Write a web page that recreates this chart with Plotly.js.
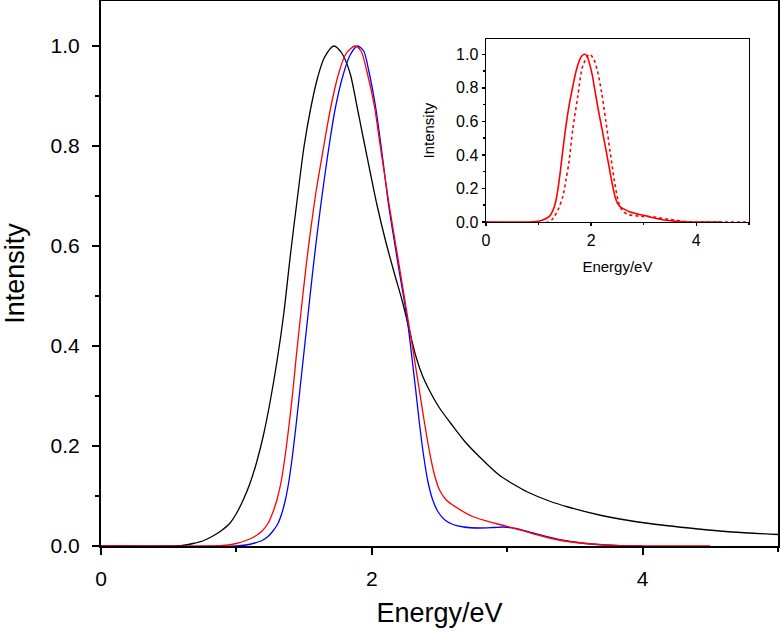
<!DOCTYPE html>
<html>
<head>
<meta charset="utf-8">
<script src="https://cdn.plot.ly/plotly-3.0.1.min.js"></script>
<style>html,body{margin:0;padding:0;background:#fff;}#chart{width:780px;height:631px;}</style>
</head>
<body>
<div id="chart"></div>
<script>
// Main panel: black curve
const blackE = [0, 0.5, 0.60, 0.68, 0.76, 0.82, 0.88, 0.95, 1.00, 1.05, 1.10, 1.15, 1.20, 1.25, 1.30, 1.35, 1.40, 1.45, 1.50, 1.55, 1.60, 1.65, 1.72, 1.78, 1.84, 1.89, 1.94, 1.99, 2.04, 2.10, 2.167, 2.223, 2.27, 2.326, 2.375, 2.424, 2.50, 2.584, 2.69, 2.793, 2.94, 3.05, 3.15, 3.31, 3.45, 3.68, 3.92, 4.17, 4.41, 4.66, 5.0];
const blackI = [0, 0, 0.001, 0.005, 0.011, 0.019, 0.029, 0.045, 0.065, 0.092, 0.125, 0.168, 0.222, 0.290, 0.370, 0.465, 0.585, 0.695, 0.800, 0.877, 0.937, 0.977, 1.0, 0.985, 0.945, 0.880, 0.812, 0.745, 0.680, 0.612, 0.545, 0.492, 0.440, 0.379, 0.340, 0.312, 0.276, 0.245, 0.208, 0.179, 0.142, 0.123, 0.108, 0.090, 0.078, 0.062, 0.050, 0.041, 0.034, 0.028, 0.023];
// Main panel: red curve (also the solid curve of the inset)
const redE = [0, 0.8, 0.9, 1.0, 1.07, 1.135, 1.19, 1.233, 1.27, 1.30, 1.33, 1.36, 1.39, 1.417, 1.442, 1.466, 1.49, 1.515, 1.54, 1.565, 1.59, 1.62, 1.655, 1.695, 1.75, 1.81, 1.875, 1.92, 1.963, 2.019, 2.056, 2.093, 2.13, 2.175, 2.215, 2.25, 2.285, 2.32, 2.355, 2.39, 2.425, 2.46, 2.50, 2.55, 2.62, 2.744, 2.916, 3.063, 3.186, 3.38, 3.58, 3.80, 4.0, 4.5];
const redI = [0, 0, 0.001, 0.005, 0.011, 0.019, 0.030, 0.045, 0.068, 0.093, 0.128, 0.180, 0.245, 0.310, 0.379, 0.440, 0.500, 0.560, 0.615, 0.665, 0.712, 0.760, 0.815, 0.875, 0.940, 0.985, 1.0, 0.990, 0.950, 0.880, 0.812, 0.745, 0.679, 0.605, 0.540, 0.482, 0.424, 0.365, 0.305, 0.245, 0.190, 0.145, 0.112, 0.092, 0.078, 0.059, 0.045, 0.035, 0.025, 0.012, 0.005, 0.001, 0, 0];
// Main panel: blue curve
const blueE = [0, 1.0, 1.07, 1.135, 1.19, 1.233, 1.27, 1.307, 1.335, 1.36, 1.385, 1.41, 1.44, 1.47, 1.50, 1.53, 1.56, 1.59, 1.62, 1.655, 1.69, 1.73, 1.786, 1.84, 1.895, 1.94, 1.978, 2.027, 2.061, 2.093, 2.125, 2.165, 2.205, 2.24, 2.268, 2.295, 2.323, 2.352, 2.383, 2.415, 2.45, 2.49, 2.54, 2.60, 2.68, 2.79, 2.90, 2.97, 3.06, 3.19, 3.38, 3.58, 3.80, 4.0];
const blueI = [0, 0, 0.002, 0.006, 0.011, 0.019, 0.030, 0.045, 0.065, 0.090, 0.125, 0.172, 0.240, 0.315, 0.390, 0.465, 0.540, 0.610, 0.675, 0.745, 0.810, 0.875, 0.940, 0.982, 1.0, 0.990, 0.950, 0.880, 0.815, 0.748, 0.680, 0.612, 0.545, 0.490, 0.440, 0.380, 0.315, 0.245, 0.180, 0.128, 0.092, 0.068, 0.052, 0.043, 0.038, 0.036, 0.037, 0.038, 0.035, 0.026, 0.013, 0.005, 0.001, 0];
// Inset: dotted red curve
const dotE = [0, 1.2, 1.25, 1.30, 1.38, 1.461, 1.52, 1.575, 1.65, 1.746, 1.84, 1.97, 2.05, 2.12, 2.20, 2.28, 2.36, 2.44, 2.52, 2.60, 2.70, 2.90, 3.20, 3.50, 3.80, 4.0, 5.0];
const dotI = [0, 0, 0.012, 0.032, 0.08, 0.152, 0.25, 0.351, 0.551, 0.750, 0.93, 1.0, 0.97, 0.90, 0.77, 0.60, 0.42, 0.25, 0.12, 0.065, 0.045, 0.035, 0.030, 0.015, 0.003, 0, 0];

const xTicks = [0, 2, 4];
const xTickText = ['0', '2', '4'];
const yTicks = [0, 0.2, 0.4, 0.6, 0.8, 1.0];
const yTickText = ['0.0', '0.2', '0.4', '0.6', '0.8', '1.0'];
const xTitle = 'Energy/eV';
const yTitle = 'Intensity';

const FONT = '"Liberation Sans", Arial, sans-serif';

function ln(color, width, dash) {
  const o = {color: color, width: width, shape: 'spline', smoothing: 0.8};
  if (dash) o.dash = dash;
  return o;
}

const traces = [
  {x: blackE, y: blackI, mode: 'lines', line: ln('#000000', 1.3), xaxis: 'x', yaxis: 'y', hoverinfo: 'skip'},
  {x: blueE, y: blueI, mode: 'lines', line: ln('#0000ff', 1.3), xaxis: 'x', yaxis: 'y', hoverinfo: 'skip'},
  {x: redE, y: redI, mode: 'lines', line: ln('#ff0000', 1.3), xaxis: 'x', yaxis: 'y', hoverinfo: 'skip'},
  {x: redE, y: redI, mode: 'lines', line: ln('#ff0000', 1.6), xaxis: 'x2', yaxis: 'y2', hoverinfo: 'skip'},
  {x: dotE, y: dotI, mode: 'lines', line: ln('#ff0000', 1.6, 'dot'), xaxis: 'x2', yaxis: 'y2', hoverinfo: 'skip'}
];

const mainAxis = {
  showgrid: false, zeroline: false, showline: true, linecolor: '#000', linewidth: 2, mirror: true,
  ticks: 'outside', ticklen: 7, tickwidth: 2, tickcolor: '#000', layer: 'below traces',
  tickfont: {family: FONT, size: 21, color: '#000'}
};
const insetAxis = {
  showgrid: false, zeroline: false, showline: true, linecolor: '#000', linewidth: 1.5, mirror: true,
  ticks: 'outside', ticklen: 3, tickwidth: 1.5, tickcolor: '#000', layer: 'below traces',
  tickfont: {family: FONT, size: 16, color: '#000'}
};

const layout = {
  width: 780, height: 631,
  margin: {l: 101, r: 2, t: 1, b: 85},
  paper_bgcolor: '#fff', plot_bgcolor: '#fff',
  showlegend: false,
  font: {family: FONT, color: '#000'},
  xaxis: Object.assign({}, mainAxis, {
    domain: [0, 1], range: [0, 5], tickvals: xTicks, ticktext: xTickText,
    minor: {dtick: 1, tick0: 0, ticklen: 4, tickwidth: 2, tickcolor: '#000', ticks: 'outside', showgrid: false},
    ticklabelstandoff: 6,
    title: {text: xTitle, font: {family: FONT, size: 27, color: '#000'}, standoff: 14}
  }),
  yaxis: Object.assign({}, mainAxis, {
    domain: [0, 1], range: [0, 1.09], tickvals: yTicks, ticktext: yTickText,
    minor: {dtick: 0.1, tick0: 0, ticklen: 4, tickwidth: 2, tickcolor: '#000', ticks: 'outside', showgrid: false},
    ticklabelstandoff: 8,
    title: {text: yTitle, font: {family: FONT, size: 27, color: '#000'}, standoff: 20}
  }),
  xaxis2: Object.assign({}, insetAxis, {
    domain: [0.5687, 0.957], anchor: 'y2', range: [0, 5], tickvals: xTicks, ticktext: xTickText,
    minor: {dtick: 1, tick0: 0, ticklen: 2, tickwidth: 1.5, tickcolor: '#000', ticks: 'outside', showgrid: false},
    title: {text: xTitle, font: {family: FONT, size: 15, color: '#000'}, standoff: 14}
  }),
  yaxis2: Object.assign({}, insetAxis, {
    domain: [0.5945, 0.930], anchor: 'x2', range: [0, 1.09], tickvals: yTicks, ticktext: yTickText,
    minor: {dtick: 0.1, tick0: 0, ticklen: 2, tickwidth: 1.5, tickcolor: '#000', ticks: 'outside', showgrid: false},
    title: {text: yTitle, font: {family: FONT, size: 15, color: '#000'}, standoff: 18}
  })
};

Plotly.newPlot('chart', traces, layout, {staticPlot: true, displayModeBar: false});
</script>
</body>
</html>
